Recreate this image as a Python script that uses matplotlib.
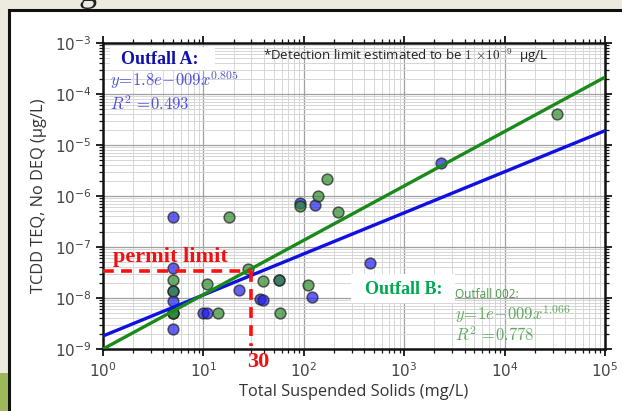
import numpy as np
import matplotlib
matplotlib.use("Agg")
import matplotlib.pyplot as plt
from matplotlib.patches import Rectangle

# ---- data -------------------------------------------------------------
# Outfall A (blue): total suspended solids (mg/L) vs TCDD TEQ (ug/L)
tss_a = [5, 5, 5, 5, 5, 5, 10, 10.9, 22.8, 37, 39, 57, 91.6, 129, 120, 456, 2311]
teq_a = [3.8e-7, 3.8e-8, 1.4e-8, 8.7e-9, 5e-9, 2.5e-9, 5e-9, 5e-9, 1.44e-8,
         9.5e-9, 9.0e-9, 2.3e-8, 7.4e-7, 6.7e-7, 1.03e-8, 4.8e-8, 4.4e-6]

# Outfall B (green)
tss_b = [5, 5, 5, 5, 10.9, 13.9, 18.1, 27.6, 39.5, 57, 57.6, 91.6, 140, 169,
         221, 111, 33000]
teq_b = [2.3e-8, 1.4e-8, 5e-9, 5e-9, 1.86e-8, 5e-9, 3.9e-7, 3.7e-8, 2.2e-8,
         2.3e-8, 5e-9, 6.4e-7, 1e-6, 2.2e-6, 4.9e-7, 1.8e-8, 4.06e-5]

# power-law fits y = c * x^k
fit_a = (1.8e-9, 0.805)
fit_b = (1e-9, 1.066)
fit_range = [1, 1e5]

permit_tss = 30
permit_teq = 3.4e-8

W, H = 622, 411


def px(x, y):
    """Figure fraction from pixel position (origin top-left)."""
    return x / W, 1 - y / H


def white_box(x_left, y_top, x_right, y_bottom):
    """Opaque white label panel given in pixel corners."""
    xa, ya = px(x_left, y_bottom)
    xb, yb = px(x_right, y_top)
    fig.patches.append(Rectangle((xa, ya), xb - xa, yb - ya,
                                 transform=fig.transFigure, facecolor="white",
                                 edgecolor="none", zorder=2))


fig = plt.figure(figsize=(W / 100, H / 100), dpi=100, facecolor="#edeae0")

# white slide panel with black frame, plus accent block on the left
x0, y0 = px(9, 10)
fig.patches.append(Rectangle((x0, -0.05), 1.1, y0 + 0.05, transform=fig.transFigure,
                             facecolor="white", edgecolor="#111111", lw=2.2,
                             zorder=-2))
fig.patches.append(Rectangle((0, 0), 8 / W, 38 / H, transform=fig.transFigure,
                             facecolor="#9db85b", edgecolor="none", zorder=-1))
fig.text(88 / W, 1 - 1 / H, "g", fontsize=26, family="Liberation Serif",
         color="#222222", va="baseline", ha="center")

l, b = px(103, 349)
r, t = px(605, 43)
ax = fig.add_axes([l, b, r - l, t - b])
ax.set_xscale("log")
ax.set_yscale("log")
ax.set_xlim(1, 1e5)
ax.set_ylim(1e-9, 1e-3)
ax.set_facecolor("white")

ax.grid(which="major", color="#a0a0a0", lw=0.9)
ax.grid(which="minor", color="#d6d6d6", lw=0.7)
ax.set_axisbelow(True)

for s in ax.spines.values():
    s.set_linewidth(1.8)
    s.set_color("#111111")

ax.xaxis.set_major_locator(matplotlib.ticker.LogLocator(base=10, numticks=20))
ax.yaxis.set_major_locator(matplotlib.ticker.LogLocator(base=10, numticks=20))
ax.xaxis.set_minor_locator(matplotlib.ticker.LogLocator(base=10, subs=np.arange(2, 10), numticks=20))
ax.yaxis.set_minor_locator(matplotlib.ticker.LogLocator(base=10, subs=np.arange(2, 10), numticks=20))
ax.xaxis.set_minor_formatter(matplotlib.ticker.NullFormatter())
ax.yaxis.set_minor_formatter(matplotlib.ticker.NullFormatter())

ax.tick_params(which="both", direction="out", top=True, right=True,
               colors="#111111", labelcolor="#444444")
ax.tick_params(which="major", length=5, width=1.3, labelsize=11)
ax.tick_params(which="minor", length=3, width=0.9)

ax.set_xlabel("Total Suspended Solids (mg/L)", family="Open Sans", fontsize=11.8,
              color="#333333", labelpad=3)
ax.set_ylabel("TCDD TEQ, No DEQ (\u00b5g/L)", family="Open Sans", fontsize=11.8,
              color="#333333")
ax.yaxis.set_label_coords((47 - 103) / 502, 0.5)

# scatter points
ax.scatter(tss_a, teq_a, s=60, facecolor="#2020ee", edgecolor="#202020",
           linewidth=1.1, alpha=0.7, zorder=3)
ax.scatter(tss_b, teq_b, s=60, facecolor="#2e8b2e", edgecolor="#202020",
           linewidth=1.1, alpha=0.7, zorder=3)

# fitted power laws
xf = np.array(fit_range, dtype=float)
ax.plot(xf, fit_a[0] * xf ** fit_a[1], color="#1010e0", lw=2.4, zorder=4)
ax.plot(xf, fit_b[0] * xf ** fit_b[1], color="#1a8a1a", lw=2.4, zorder=4)

# permit limit guide
ax.plot([1, permit_tss], [permit_teq, permit_teq], color="#ff1010", lw=2.6,
        ls=(0, (3, 2)), zorder=5)
ax.plot([permit_tss, permit_tss], [permit_teq, 1.15e-9], color="#ff1010", lw=2.6,
        ls=(0, (3, 2)), zorder=5)

fig.text(*px(113, 257), "permit limit", family="Liberation Serif", weight="bold",
         fontsize=16, color="#ee1111", va="center", ha="left")
fig.text(*px(258, 362), "30", family="Liberation Serif", weight="bold",
         fontsize=16, color="#ee1111", va="center", ha="center")

# Outfall A annotation
white_box(110, 47, 215, 70)
fig.text(*px(121, 60), "Outfall A:", family="Liberation Serif", weight="bold",
         fontsize=13, color="#1010b0", va="center", ha="left")
fig.text(*px(110, 80), r"$y\!=\!1.8e\!-\!009x^{0.805}$", math_fontfamily="cm",
         fontsize=12, color="#5050dd", va="center", ha="left")
fig.text(*px(110, 105), r"$R^2\ \!=\!0.493$", math_fontfamily="cm",
         fontsize=12, color="#5050dd", va="center", ha="left")

fig.text(*px(263, 56),
         r"*Detection limit estimated to be $1\ \!\times\!10^{-9}$" + "  \u00b5g/L",
         family="Open Sans", math_fontfamily="cm", fontsize=9.5,
         color="#222222", va="center", ha="left")

# Outfall B annotation
white_box(351, 274, 455, 303)
fig.text(*px(365, 289), "Outfall B:", family="Liberation Serif", weight="bold",
         fontsize=13, color="#00a850", va="center", ha="left")
fig.text(*px(455, 294), "Outfall 002:", family="Open Sans", fontsize=8.5,
         color="#4a994a", va="center", ha="left")
fig.text(*px(455, 314), r"$y\!=\!1e\!-\!009x^{1.066}$", math_fontfamily="cm",
         fontsize=12, color="#60aa60", va="center", ha="left")
fig.text(*px(455, 336), r"$R^2\ \!=\!0.778$", math_fontfamily="cm",
         fontsize=12, color="#60aa60", va="center", ha="left")

fig.savefig("out.png", dpi=100, facecolor=fig.get_facecolor())
